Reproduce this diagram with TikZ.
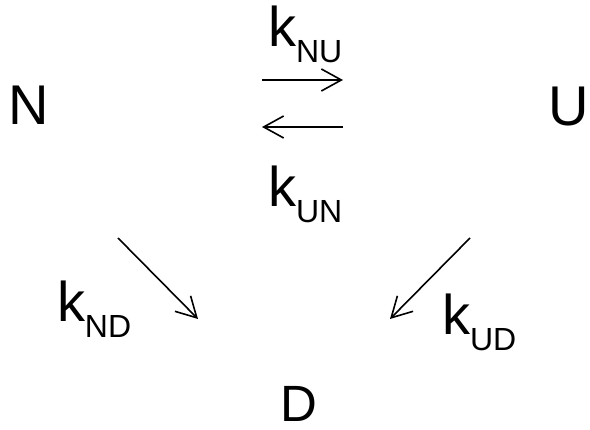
\documentclass[tikz,border=0pt]{standalone}
\usepackage{fontspec}
\setmainfont{Liberation Sans}
\usetikzlibrary{arrows.meta}
\newcommand{\bigf}{\fontsize{56}{56}\selectfont}
\newcommand{\subf}{\fontsize{32}{32}\selectfont}
\newcommand{\klab}[1]{{\bigf k}\raisebox{-16pt}{\subf #1}}
\begin{document}
\begin{tikzpicture}[x=1pt,y=-1pt,
  lbl/.style={inner sep=0pt,outer sep=0pt,anchor=base west},
  rarrow/.style={line width=1.6pt,-{Straight Barb[length=20pt,width=22pt,line width=1.6pt]}}]
\useasboundingbox (0,0) rectangle (590,430);
\node[lbl,font=\bigf] (N) at (9,125) {N};
\node[lbl,font=\bigf,anchor=base east] (U) at (589,126) {U};
\node[lbl,font=\fontsize{51}{51}\selectfont] (D) at (280,422) {D};
\node[lbl] (kNU) at (268,47) {\klab{NU}};
\node[lbl] (kUN) at (268,207) {\klab{UN}};
\node[lbl] (kND) at (57,322) {\klab{ND}};
\node[lbl] (kUD) at (442,335) {\klab{UD}};
\coordinate (a1s) at (262,80);
\coordinate (a1e) at (343,80);
\coordinate (a2s) at (343,127);
\coordinate (a2e) at (262,127);
\coordinate (a3s) at (118,238);
\coordinate (a3e) at (198,319);
\coordinate (a4s) at (470,238);
\coordinate (a4e) at (390,319);
\draw[rarrow] (a1s) -- (a1e);
\draw[rarrow] (a2s) -- (a2e);
\draw[rarrow] (a3s) -- (a3e);
\draw[rarrow] (a4s) -- (a4e);
\end{tikzpicture}
\end{document}
